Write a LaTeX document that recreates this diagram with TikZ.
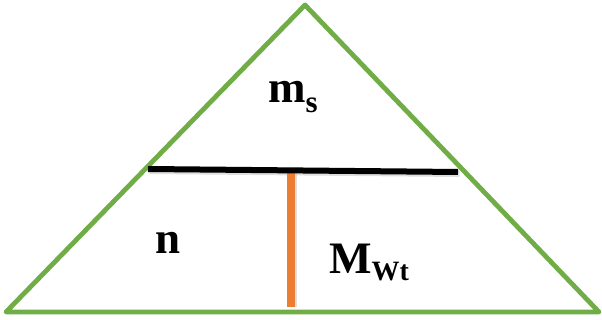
\documentclass[tikz,border=0pt]{standalone}
\usepackage{fontspec}
\setmainfont{Liberation Serif}
\definecolor{trigreen}{HTML}{70AD47}
\definecolor{barorange}{HTML}{ED7D31}
\definecolor{shade}{HTML}{C8C8C8}
\begin{document}
\begin{tikzpicture}[x=1pt,y=-1pt,
  edge/.style={draw=trigreen,line width=4.8pt,line join=round},
  divider/.style={draw=black,line width=6pt},
  stem/.style={draw=barorange,line width=8pt},
  shadowline/.style={draw=shade,line width=6pt,opacity=0.6},
  lbl/.style={inner sep=0pt,anchor=base west,font=\fontsize{45}{45}\selectfont\bfseries}]
\useasboundingbox (0,0) rectangle (602,320);
\coordinate (apex) at (305,5);
\coordinate (bl) at (6,312);
\coordinate (br) at (599,312);
\coordinate (dl) at (148,169);
\coordinate (dr) at (458,172);
\coordinate (st) at (291,173);
\coordinate (sb) at (291,307);
% shadows
\path[shadowline] ([shift={(1.5,2)}]dl) -- ([shift={(1.5,2)}]dr);
\path[shadowline,line width=8pt] ([shift={(2,0)}]st) -- ([shift={(2,0)}]sb);
% triangle
\path[edge] (apex) -- (br) -- (bl) -- cycle;
% bars
\path[stem] (st) -- (sb);
\path[divider] (dl) -- (dr);
% labels
\node[lbl] (ms) at (268,103) {m{\fontsize{31}{31}\selectfont\raisebox{-10pt}{s}}};
\node[lbl] (n) at (155,254) {n};
\node[lbl] (mwt) at (329,273) {M{\fontsize{28}{28}\selectfont\raisebox{-7pt}{Wt}}};
\end{tikzpicture}
\end{document}
